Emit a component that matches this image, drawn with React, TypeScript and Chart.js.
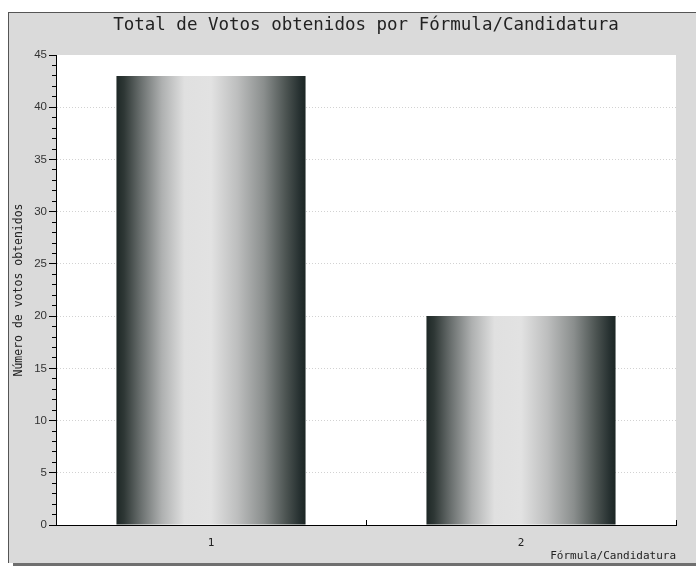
import React, { useEffect, useRef } from "react";
import { Chart, registerables } from "chart.js";

Chart.register(...registerables);

const categories = ["1", "2"];
const votes = [43, 20];
const yMin = 0;
const yMax = 45;
const yStep = 5;
const minorStep = 1;

const TITLE = "Total de Votos obtenidos por Fórmula/Candidatura";
const Y_TITLE = "Número de votos obtenidos";
const X_TITLE = "Fórmula/Candidatura";

const BAR_PCT = 0.61;
const MONO = "'DejaVu Sans Mono', 'Liberation Mono', monospace";

const plotBg = {
  id: "plotBg",
  beforeDraw(chart: any) {
    const a = chart.chartArea;
    if (!a) return;
    const ctx = chart.ctx;
    ctx.save();
    ctx.fillStyle = "#ffffff";
    ctx.fillRect(a.left, a.top, a.right - a.left, a.bottom - a.top);
    ctx.restore();
  },
};

export default function App() {
  const ref = useRef<HTMLCanvasElement | null>(null);

  useEffect(() => {
    if (!ref.current) return;
    const chart = new Chart(ref.current, {
      type: "bar",
      data: {
        labels: categories,
        datasets: [
          {
            data: votes,
            barPercentage: BAR_PCT,
            categoryPercentage: 1,
            borderWidth: 0,
            backgroundColor: (c: any) => {
              const ch = c.chart;
              const area = ch.chartArea;
              if (!area || !ch.scales.x) return "#777";
              const cx = ch.scales.x.getPixelForValue(c.dataIndex);
              const w = ((area.right - area.left) / categories.length) * BAR_PCT;
              const g = ch.ctx.createLinearGradient(cx - w / 2, 0, cx + w / 2, 0);
              g.addColorStop(0, "#1e2826");
              g.addColorStop(0.04, "#2e3735");
              g.addColorStop(0.12, "#646a69");
              g.addColorStop(0.24, "#aeb0b0");
              g.addColorStop(0.36, "#e0e0e0");
              g.addColorStop(0.5, "#e2e2e2");
              g.addColorStop(0.64, "#bdbebe");
              g.addColorStop(0.78, "#8a8e8d");
              g.addColorStop(0.9, "#4a5250");
              g.addColorStop(0.97, "#263030");
              g.addColorStop(1, "#1c2624");
              return g;
            },
          },
        ],
      },
      options: {
        responsive: false,
        maintainAspectRatio: false,
        animation: false,
        devicePixelRatio: 1,
        layout: { padding: { left: 0, right: 20, top: 0, bottom: 0 } },
        plugins: {
          legend: { display: false },
          tooltip: { enabled: false },
          title: {
            display: true,
            fullSize: false,
            text: TITLE,
            color: "#222",
            font: { family: MONO, size: 17.5, weight: "normal" },
            padding: { top: 15, bottom: 19 },
          },
        },
        scales: {
          x: {
            type: "category",
            offset: true,
            grid: {
              offset: true,
              drawOnChartArea: false,
              tickLength: -5,
              tickColor: "#000",
            },
            border: { color: "#000", width: 1 },
            ticks: {
              color: "#222",
              padding: 17,
              font: { family: MONO, size: 11 },
            },
            title: {
              display: true,
              text: X_TITLE,
              align: "end",
              color: "#222",
              font: { family: MONO, size: 11 },
              padding: { top: 0, bottom: 6 },
            },
            afterFit: (s: any) => {
              s.height = 44;
            },
          },
          y: {
            type: "linear",
            position: "left",
            weight: 1,
            min: yMin,
            max: yMax,
            ticks: {
              stepSize: yStep,
              color: "#333",
              padding: 2,
              font: { family: "'Liberation Sans', Arial, sans-serif", size: 11.5 },
            },
            grid: {
              color: (c: any) =>
                c.tick && (c.tick.value === yMin || c.tick.value === yMax)
                  ? "rgba(0,0,0,0)"
                  : "#d2d2d2",
              tickColor: "#000",
              tickLength: 7,
            },
            border: { color: "#000", width: 1, dash: [1, 2] },
            title: {
              display: true,
              text: Y_TITLE,
              color: "#222",
              font: { family: MONO, size: 11.5 },
              padding: { top: 12, bottom: 0 },
            },
            afterFit: (s: any) => {
              s.width = 56;
            },
          },
          yMinor: {
            type: "linear",
            position: "left",
            weight: 0,
            min: yMin,
            max: yMax,
            ticks: { stepSize: minorStep, display: false },
            grid: {
              drawOnChartArea: false,
              tickLength: 4,
              tickColor: "#000",
            },
            border: { display: false },
            afterFit: (s: any) => {
              s.width = 0;
            },
          },
        },
      },
      plugins: [plotBg],
    } as any);
    return () => chart.destroy();
  }, []);

  return (
    <div
      style={{
        position: "fixed",
        left: 0,
        top: 0,
        width: 696,
        height: 569,
        background: "#ffffff",
        overflow: "hidden",
      }}
    >
      <div
        style={{
          position: "absolute",
          left: 8,
          top: 12,
          width: 700,
          height: 550,
          background: "#dadada",
          borderTop: "1px solid #555",
          borderLeft: "1px solid #555",
          boxShadow: "5px 3px 0 #6f6f6f",
        }}
      />
      <canvas
        ref={ref}
        width={696}
        height={569}
        style={{ position: "absolute", left: 0, top: 0, width: 696, height: 569 }}
      />
    </div>
  );
}
